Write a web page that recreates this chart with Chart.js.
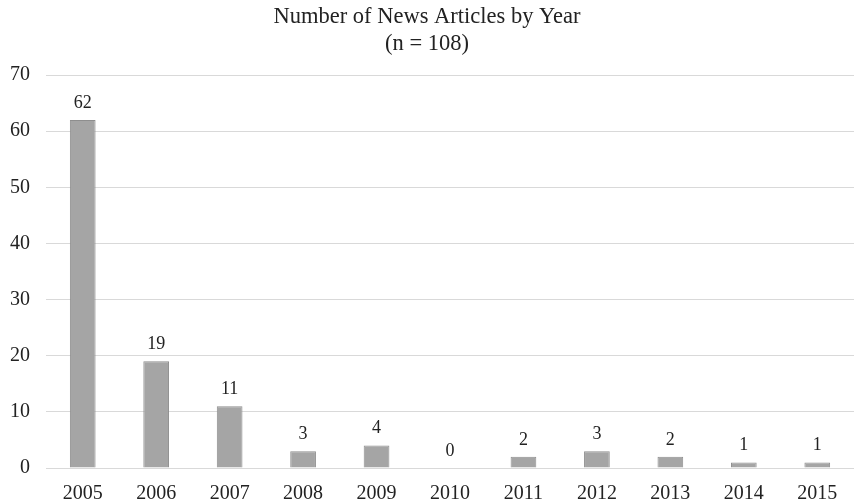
<!DOCTYPE html>
<html>
<head>
<meta charset="utf-8">
<script src="https://cdn.jsdelivr.net/npm/chart.js@4/dist/chart.umd.min.js"></script>
<style>
html,body{margin:0;padding:0;background:#fff;}
#wrap{width:854px;height:503px;position:relative;}
</style>
</head>
<body>
<div id="wrap"><canvas id="c"></canvas></div>
<script>
const years = ["2005","2006","2007","2008","2009","2010","2011","2012","2013","2014","2015"];
const articles = [62, 19, 11, 3, 4, 0, 2, 3, 2, 1, 1];
const titleLines = ["Number of News Articles by Year", "(n = 108)"];
const yTicks = [0, 10, 20, 30, 40, 50, 60, 70];

const FONT = "'Liberation Serif', 'Times New Roman', serif";

const valueLabels = {
  id: 'valueLabels',
  afterDatasetsDraw(chart) {
    const ctx = chart.ctx;
    const meta = chart.getDatasetMeta(0);
    ctx.save();
    ctx.font = "18px " + FONT;
    ctx.fillStyle = "#222";
    ctx.textAlign = "center";
    ctx.textBaseline = "middle";
    meta.data.forEach((bar, i) => {
      ctx.fillText(String(articles[i]), bar.x, bar.y - 17);
    });
    ctx.restore();
  }
};

new Chart(document.getElementById('c'), {
  type: 'bar',
  data: {
    labels: years,
    datasets: [{
      data: articles,
      backgroundColor: '#a5a5a5',
      borderColor: '#8e8e8e',
      borderWidth: 1,
      categoryPercentage: 1,
      barPercentage: 0.35
    }]
  },
  options: {
    responsive: true,
    maintainAspectRatio: false,
    animation: false,
    layout: { padding: { top: 0, right: 0, left: 0, bottom: 0 } },
    plugins: {
      legend: { display: false },
      tooltip: { enabled: false },
      title: {
        display: true,
        text: titleLines,
        color: '#222',
        font: { family: FONT, size: 22.5, weight: 'normal', lineHeight: 1.2 },
        padding: { top: 4, bottom: 17 }
      }
    },
    scales: {
      x: {
        afterFit(scale) { scale.height = 35; },
        grid: { display: false, drawTicks: false },
        border: { display: false },
        ticks: { color: '#222', font: { family: FONT, size: 20, lineHeight: 1.2 }, padding: 14, maxRotation: 0 }
      },
      y: {
        min: 0, max: 70,
        afterBuildTicks(scale) { scale.ticks = yTicks.map(v => ({ value: v })); },
        afterFit(scale) { scale.width = 46; },
        grid: { color: '#d9d9d9', lineWidth: 1, drawTicks: false },
        border: { display: false },
        ticks: { color: '#222', font: { family: FONT, size: 20 }, padding: 16 }
      }
    }
  },
  plugins: [valueLabels]
});
</script>
</body>
</html>
